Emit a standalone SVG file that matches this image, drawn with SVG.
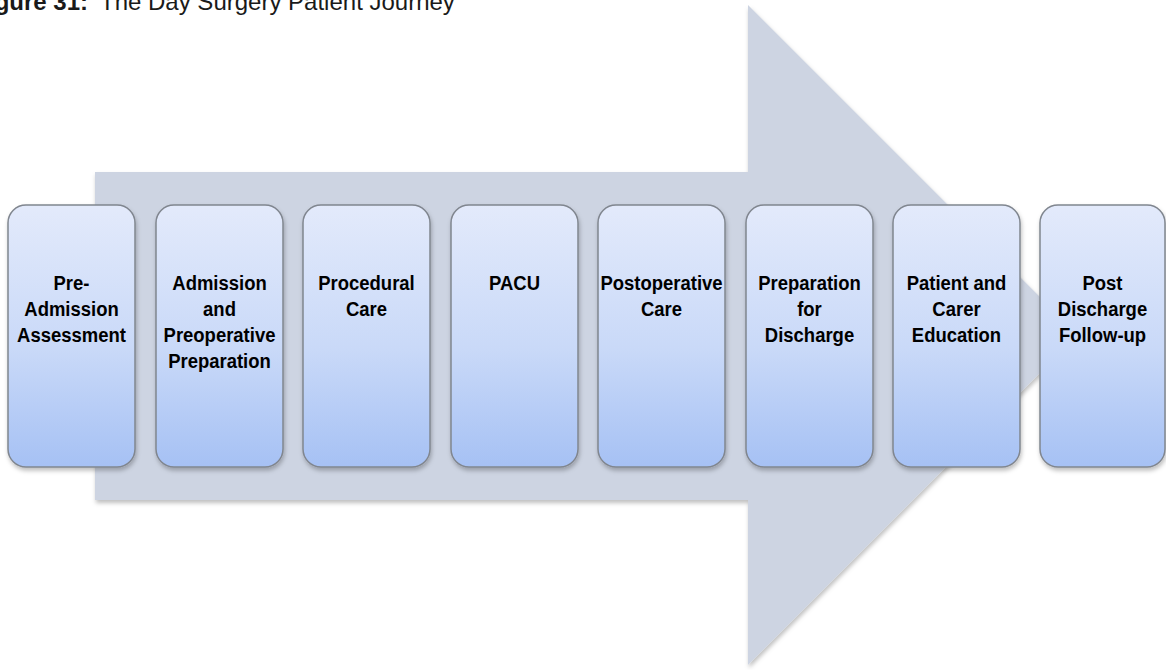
<svg xmlns="http://www.w3.org/2000/svg" width="1166" height="670" viewBox="0 0 1166 670">
  <defs>
    <linearGradient id="boxGrad" x1="0" y1="0" x2="0" y2="1">
      <stop offset="0" stop-color="#e3eafb"/>
      <stop offset="0.55" stop-color="#c9d9f8"/>
      <stop offset="1" stop-color="#a6c1f4"/>
    </linearGradient>
    <filter id="shadow" x="-10%" y="-10%" width="130%" height="130%">
      <feDropShadow dx="1" dy="3" stdDeviation="2" flood-color="#000" flood-opacity="0.25"/>
    </filter>
  </defs>
  <style>
    .box { fill: url(#boxGrad); stroke: #80868f; stroke-width: 1.5; filter: url(#shadow); }
    .lbl { font-family: "Liberation Sans", Arial, sans-serif; font-weight: bold; font-size: 21px; fill: #000; text-anchor: middle; }
    .title { font-family: "Liberation Sans", Arial, sans-serif; font-size: 24px; fill: #1a1a1a; }
  </style>
  <rect width="1166" height="670" fill="#ffffff"/>
  <text class="title" x="88" y="10" text-anchor="end" font-weight="bold">Figure 31:</text>
  <text class="title" x="100" y="10">The Day Surgery Patient Journey</text>
  <g id="connectors">
    <polygon points="95,172 748,172 748,5 1078,335 748,665 748,500 95,500" fill="#cdd4e2" filter="url(#shadow)"/>
  </g>
  <g id="n1">
    <rect class="box" x="8" y="205" width="127" height="262" rx="18"/>
    <g transform="translate(71.5,0) scale(0.88,1)">
      <text class="lbl" x="0" y="290">Pre-</text>
      <text class="lbl" x="0" y="316">Admission</text>
      <text class="lbl" x="0" y="342">Assessment</text>
    </g>
  </g>
  <g id="n2">
    <rect class="box" x="156" y="205" width="127" height="262" rx="18"/>
    <g transform="translate(219.5,0) scale(0.88,1)">
      <text class="lbl" x="0" y="290">Admission</text>
      <text class="lbl" x="0" y="316">and</text>
      <text class="lbl" x="0" y="342">Preoperative</text>
      <text class="lbl" x="0" y="368">Preparation</text>
    </g>
  </g>
  <g id="n3">
    <rect class="box" x="303" y="205" width="127" height="262" rx="18"/>
    <g transform="translate(366.5,0) scale(0.88,1)">
      <text class="lbl" x="0" y="290">Procedural</text>
      <text class="lbl" x="0" y="316">Care</text>
    </g>
  </g>
  <g id="n4">
    <rect class="box" x="451" y="205" width="127" height="262" rx="18"/>
    <g transform="translate(514.5,0) scale(0.88,1)">
      <text class="lbl" x="0" y="290">PACU</text>
    </g>
  </g>
  <g id="n5">
    <rect class="box" x="598" y="205" width="127" height="262" rx="18"/>
    <g transform="translate(661.5,0) scale(0.88,1)">
      <text class="lbl" x="0" y="290">Postoperative</text>
      <text class="lbl" x="0" y="316">Care</text>
    </g>
  </g>
  <g id="n6">
    <rect class="box" x="746" y="205" width="127" height="262" rx="18"/>
    <g transform="translate(809.5,0) scale(0.88,1)">
      <text class="lbl" x="0" y="290">Preparation</text>
      <text class="lbl" x="0" y="316">for</text>
      <text class="lbl" x="0" y="342">Discharge</text>
    </g>
  </g>
  <g id="n7">
    <rect class="box" x="893" y="205" width="127" height="262" rx="18"/>
    <g transform="translate(956.5,0) scale(0.88,1)">
      <text class="lbl" x="0" y="290">Patient and</text>
      <text class="lbl" x="0" y="316">Carer</text>
      <text class="lbl" x="0" y="342">Education</text>
    </g>
  </g>
  <g id="n8">
    <rect class="box" x="1040" y="205" width="125" height="262" rx="18"/>
    <g transform="translate(1102.5,0) scale(0.88,1)">
      <text class="lbl" x="0" y="290">Post</text>
      <text class="lbl" x="0" y="316">Discharge</text>
      <text class="lbl" x="0" y="342">Follow-up</text>
    </g>
  </g>
</svg>
